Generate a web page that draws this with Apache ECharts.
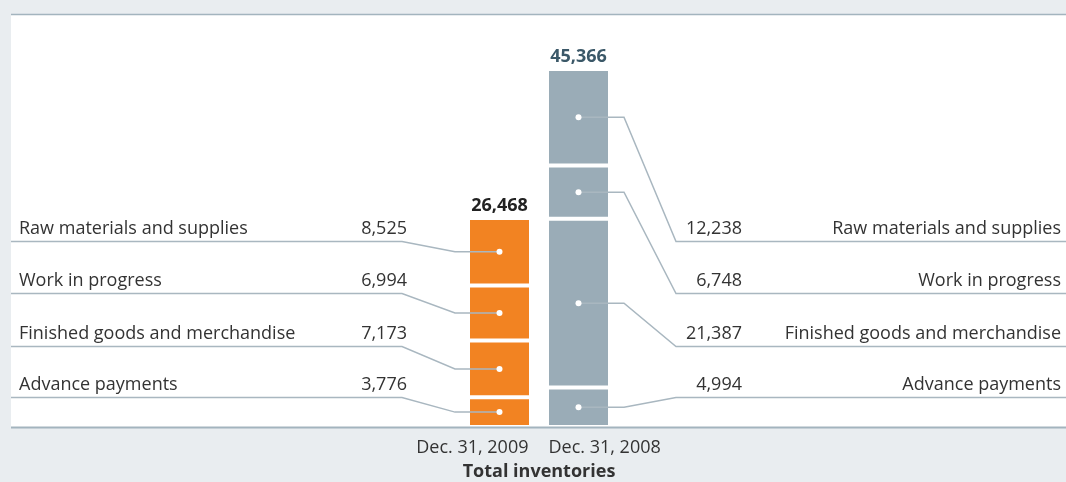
<!DOCTYPE html>
<html>
<head>
<meta charset="utf-8">
<script src="https://cdn.jsdelivr.net/npm/echarts@6/dist/echarts.min.js"></script>
<style>html,body{margin:0;padding:0;background:#e9edf0;}#c{width:1066px;height:482px;}</style>
</head>
<body>
<div id="c"></div>
<script>
const categories = ['Dec. 31, 2009', 'Dec. 31, 2008'];
const axisTitle = 'Total inventories';
// stacked bottom -> top
const components = ['Advance payments', 'Finished goods and merchandise', 'Work in progress', 'Raw materials and supplies'];
const values2009 = [3776, 7173, 6994, 8525];
const values2008 = [4994, 21387, 6748, 12238];
const totals = [26468, 45366];

const FONT = '"Open Sans", "Noto Sans", sans-serif';
const FS = '18px ';
const ORANGE = '#f28322';
const GRAY = '#9aacb7';
const LINE = '#a9b7c0';
const TEXT = '#333333';

function fmt(v) { return v.toLocaleString('en-US'); }

const chart = echarts.init(document.getElementById('c'), null, { renderer: 'canvas' });

const barSeries = components.map((name, i) => ({
  name: name,
  type: 'bar',
  stack: 'inv',
  barWidth: 63,
  silent: true,
  data: [
    { value: values2009[i], itemStyle: { color: ORANGE } },
    { value: values2008[i], itemStyle: { color: GRAY } }
  ],
  itemStyle: { borderColor: '#ffffff', borderWidth: 2 }
}));

function mids(vals) {
  let acc = 0;
  return vals.map(v => { const m = acc + v / 2; acc += v; return m; });
}
const mid2009 = mids(values2009);
const mid2008 = mids(values2008);
const dotData = [];
components.forEach((c, i) => {
  dotData.push([0, mid2009[i]]);
  dotData.push([1, mid2008[i]]);
});

chart.setOption({
  animation: false,
  backgroundColor: '#e9edf0',
  grid: { left: 460, width: 158, top: 32.4, bottom: 55, containLabel: false },
  xAxis: {
    type: 'category', data: categories,
    axisLine: { show: false }, axisTick: { show: false }, axisLabel: { show: false }
  },
  yAxis: {
    type: 'value', min: 0, max: 50000,
    show: false, splitLine: { show: false }
  },
  series: barSeries.concat([{
    type: 'scatter', data: dotData, symbolSize: 6, silent: true, z: 10,
    itemStyle: { color: '#ffffff', opacity: 1 }
  }])
});

const rowY = [241.5, 293.5, 346.5, 397.5];
const order = [3, 2, 1, 0];

const g = [];
g.push({ type: 'rect', z: -100, shape: { x: 11, y: 15, width: 1055, height: 412 }, style: { fill: '#ffffff' } });
g.push({ type: 'line', z: 50, shape: { x1: 11, y1: 14.5, x2: 1066, y2: 14.5 }, style: { stroke: '#a3b4be', lineWidth: 1.5 } });
g.push({ type: 'line', z: 50, shape: { x1: 11, y1: 427.5, x2: 1066, y2: 427.5 }, style: { stroke: '#a3b4be', lineWidth: 2 } });

order.forEach((ci, r) => {
  const y = rowY[r];
  const pL = chart.convertToPixel({ seriesIndex: 0 }, [0, mid2009[ci]]);
  const pR = chart.convertToPixel({ seriesIndex: 0 }, [1, mid2008[ci]]);
  g.push({ type: 'polyline', z: 5, shape: { points: [[11, y], [402, y], [455, pL[1]], [pL[0], pL[1]]] },
    style: { stroke: LINE, lineWidth: 1.5, fill: null } });
  g.push({ type: 'polyline', z: 5, shape: { points: [[1066, y], [676, y], [624, pR[1]], [pR[0], pR[1]]] },
    style: { stroke: LINE, lineWidth: 1.5, fill: null } });
  const ty = y - 13;
  g.push({ type: 'text', z: 20, x: 19, y: ty, style: { text: components[ci], font: FS + FONT, fill: TEXT, textAlign: 'left', textVerticalAlign: 'middle' } });
  g.push({ type: 'text', z: 20, x: 407, y: ty, style: { text: fmt(values2009[ci]), font: FS + FONT, fill: TEXT, textAlign: 'right', textVerticalAlign: 'middle' } });
  g.push({ type: 'text', z: 20, x: 742, y: ty, style: { text: fmt(values2008[ci]), font: FS + FONT, fill: TEXT, textAlign: 'right', textVerticalAlign: 'middle' } });
  g.push({ type: 'text', z: 20, x: 1061, y: ty, style: { text: components[ci], font: FS + FONT, fill: TEXT, textAlign: 'right', textVerticalAlign: 'middle' } });
});

const totalColors = ['#222222', '#3b5868'];
totals.forEach((t, i) => {
  const p = chart.convertToPixel({ seriesIndex: 0 }, [i, t]);
  g.push({ type: 'text', z: 20, x: p[0], y: p[1] - 12, style: { text: fmt(t), font: 'bold ' + FS + FONT, fill: totalColors[i], textAlign: 'center', textVerticalAlign: 'middle' } });
});

const c0 = chart.convertToPixel({ seriesIndex: 0 }, [0, 0]);
const c1 = chart.convertToPixel({ seriesIndex: 0 }, [1, 0]);
g.push({ type: 'text', z: 20, x: c0[0] + 29, y: 448, style: { text: categories[0], font: FS + FONT, fill: TEXT, textAlign: 'right', textVerticalAlign: 'middle' } });
g.push({ type: 'text', z: 20, x: c1[0] - 30, y: 448, style: { text: categories[1], font: FS + FONT, fill: TEXT, textAlign: 'left', textVerticalAlign: 'middle' } });
g.push({ type: 'text', z: 20, x: (c0[0] + c1[0]) / 2, y: 472, style: { text: axisTitle, font: 'bold ' + FS + FONT, fill: TEXT, textAlign: 'center', textVerticalAlign: 'middle' } });

chart.setOption({ graphic: { elements: g } });
</script>
</body>
</html>
